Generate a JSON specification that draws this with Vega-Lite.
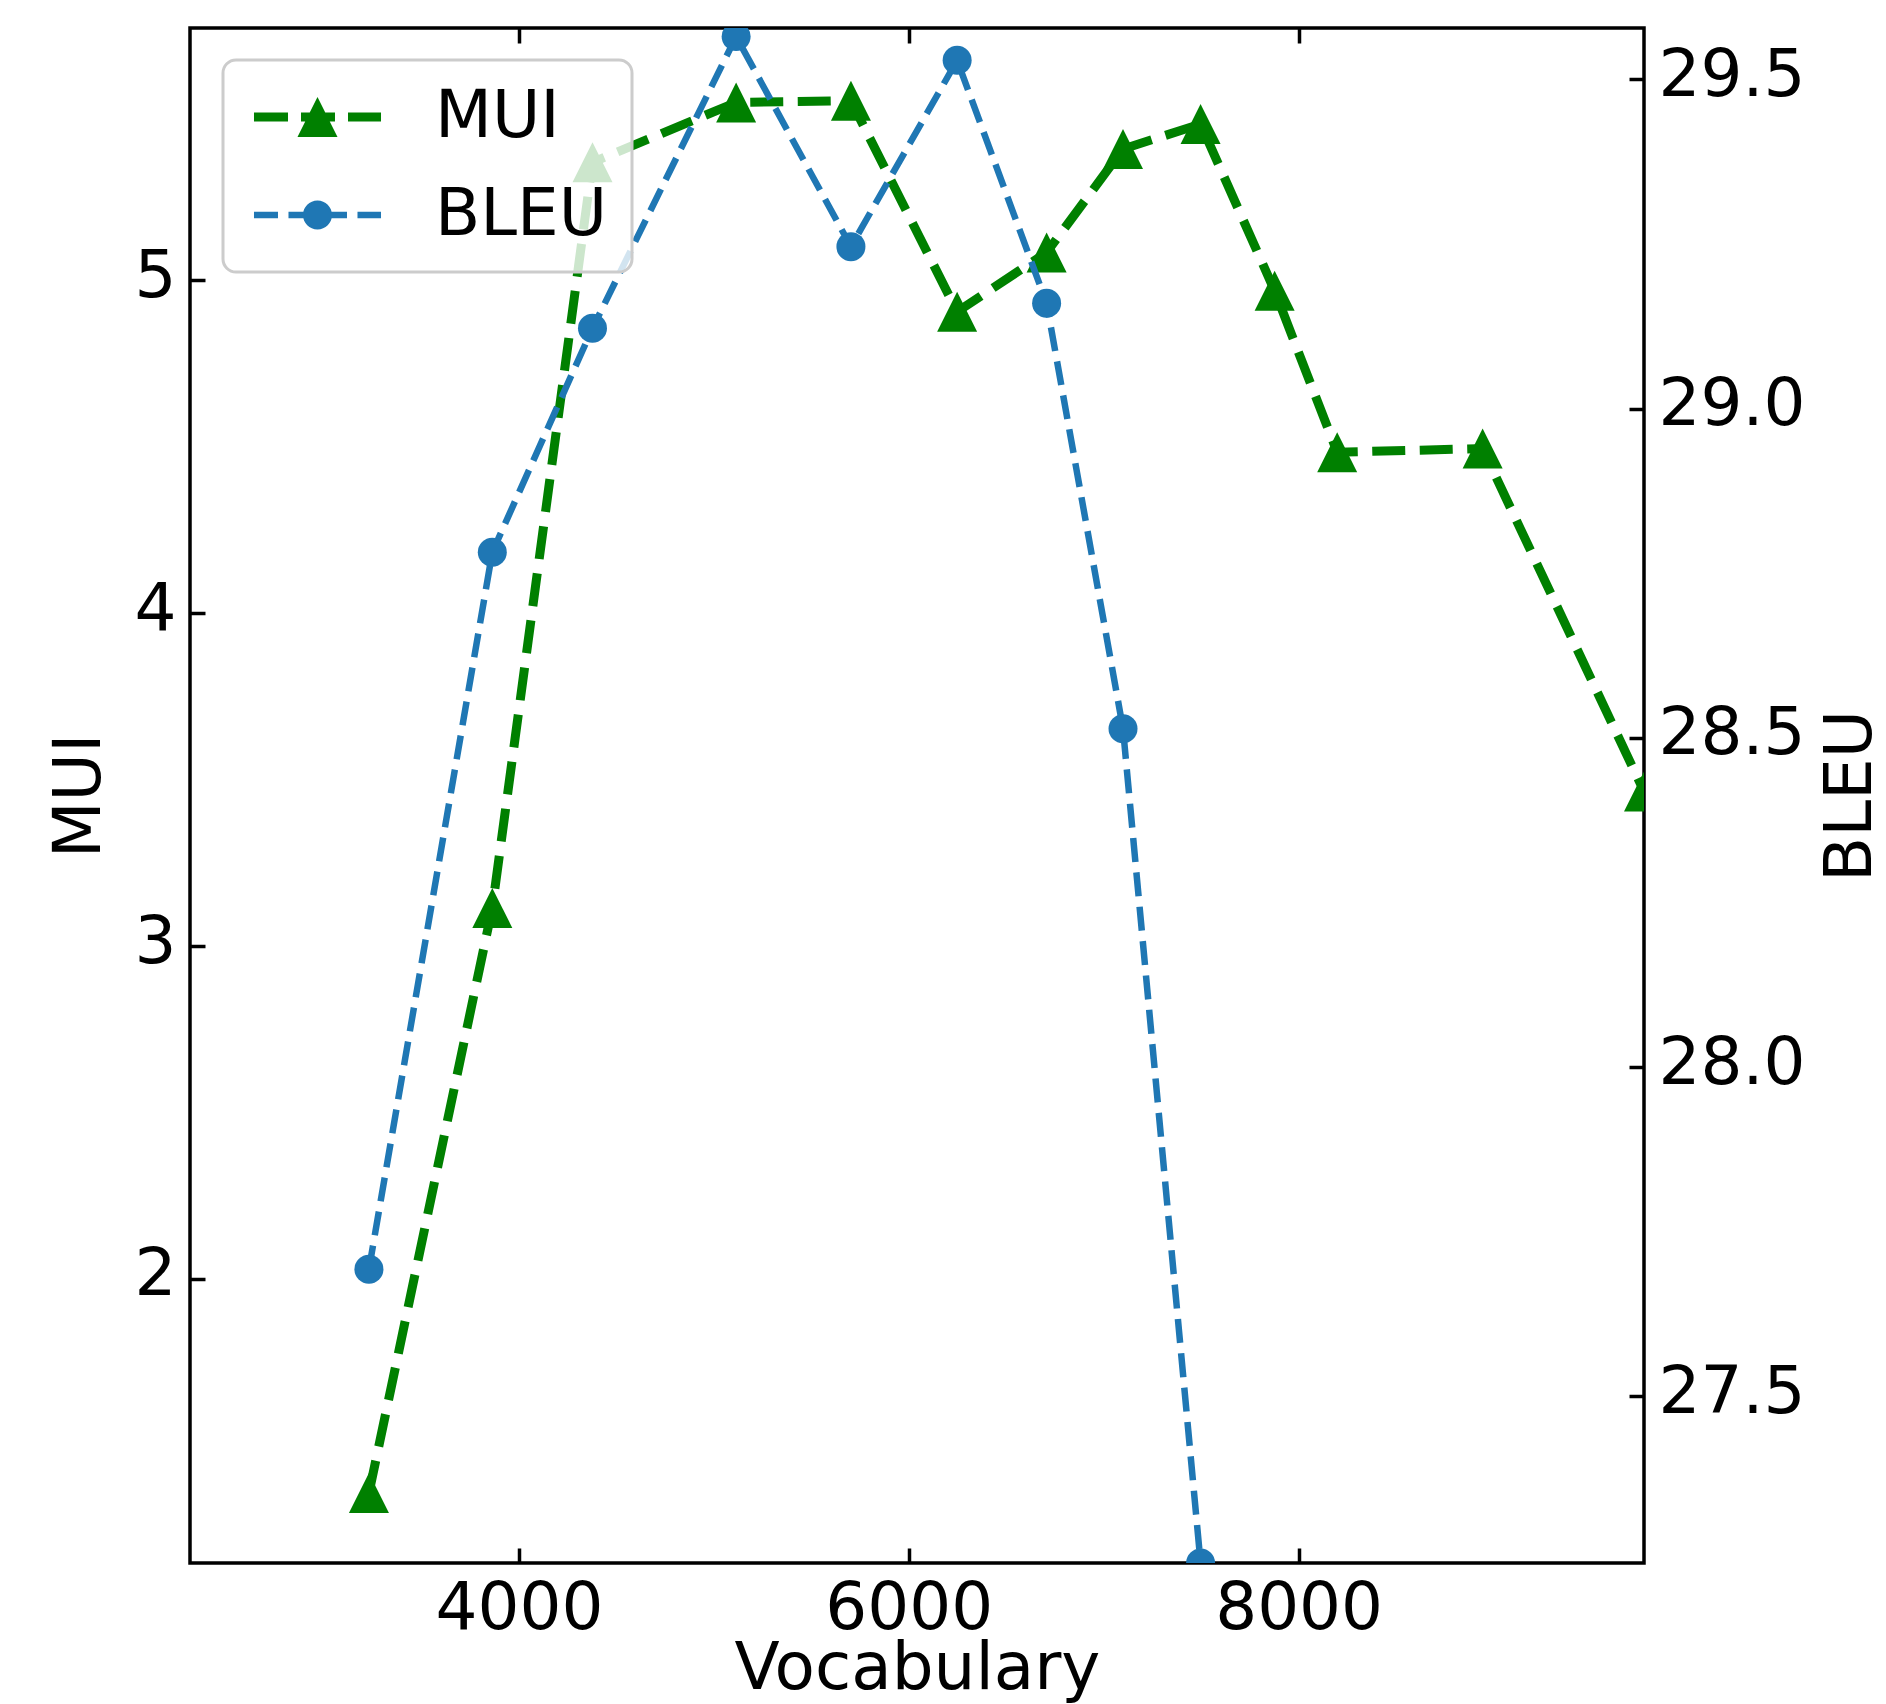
{
  "$schema": "https://vega.github.io/schema/vega-lite/v6.json",
  "width": 1454,
  "height": 1535,
  "autosize": {"type": "none"},
  "padding": {"left": 190, "top": 28, "right": 242, "bottom": 141},
  "background": "#ffffff",
  "config": {
    "font": "DejaVu Sans",
    "view": {"stroke": "#000000", "strokeWidth": 3.5},
    "legend": {"strokeWidth": 3},
    "axis": {
      "domain": false,
      "grid": false,
      "tickColor": "#000000",
      "tickWidth": 3.5,
      "tickSize": -15,
      "labelColor": "#000000",
      "labelFont": "DejaVu Sans",
      "labelFontSize": 66,
      "labelOverlap": false,
      "labelFlush": false,
      "titleColor": "#000000",
      "titleFont": "DejaVu Sans",
      "titleFontSize": 66,
      "titleFontWeight": "normal"
    }
  },
  "datasets": {
    "mui": [
      {"vocab": 3230, "MUI": 1.357},
      {"vocab": 3863, "MUI": 3.115},
      {"vocab": 4377, "MUI": 5.355},
      {"vocab": 5114, "MUI": 5.535},
      {"vocab": 5703, "MUI": 5.54},
      {"vocab": 6248, "MUI": 4.906},
      {"vocab": 6707, "MUI": 5.084},
      {"vocab": 7099, "MUI": 5.395},
      {"vocab": 7497, "MUI": 5.47},
      {"vocab": 7877, "MUI": 4.969},
      {"vocab": 8198, "MUI": 4.484},
      {"vocab": 8944, "MUI": 4.495},
      {"vocab": 9772, "MUI": 3.465}
    ],
    "bleu": [
      {"vocab": 3230, "BLEU": 27.693},
      {"vocab": 3863, "BLEU": 28.782},
      {"vocab": 4377, "BLEU": 29.122},
      {"vocab": 5114, "BLEU": 29.565},
      {"vocab": 5703, "BLEU": 29.246},
      {"vocab": 6248, "BLEU": 29.529},
      {"vocab": 6707, "BLEU": 29.16},
      {"vocab": 7099, "BLEU": 28.514},
      {"vocab": 7497, "BLEU": 27.247}
    ],
    "legendrows": [
      {"series": "MUI"},
      {"series": "BLEU"}
    ]
  },
  "layer": [
    {
      "data": {"name": "mui"},
      "mark": {"type": "line", "color": "#008000", "strokeWidth": 9, "strokeDash": [33, 14.5], "clip": true},
      "encoding": {
        "x": {
          "field": "vocab", "type": "quantitative",
          "scale": {"domain": [2312, 9772], "nice": false, "zero": false},
          "axis": {
            "orient": "bottom", "values": [4000, 6000, 8000], "format": "d",
            "labelPadding": 80, "labelBaseline": "alphabetic",
            "title": "Vocabulary", "titleX": 727, "titleY": 125,
            "titleBaseline": "alphabetic", "titleAlign": "center", "titleAngle": 0
          }
        },
        "y": {
          "field": "MUI", "type": "quantitative",
          "scale": {"domain": [1.1467, 5.7586], "nice": false, "zero": false},
          "axis": {
            "orient": "left", "values": [2, 3, 4, 5], "format": "d",
            "labelPadding": 29, "labelBaseline": "alphabetic", "labelOffset": 16,
            "title": "MUI", "titleX": -91, "titleY": 767.5, "titleAngle": -90,
            "titleBaseline": "alphabetic", "titleAlign": "center"
          }
        }
      }
    },
    {
      "data": {"name": "mui"},
      "mark": {"type": "point", "shape": "M0,-1L1,1L-1,1Z", "size": 1600, "filled": true, "opacity": 1, "color": "#008000", "clip": true},
      "encoding": {
        "x": {"field": "vocab", "type": "quantitative", "scale": {"domain": [2312, 9772], "nice": false, "zero": false}, "axis": null},
        "y": {"field": "MUI", "type": "quantitative", "scale": {"domain": [1.1467, 5.7586], "nice": false, "zero": false}, "axis": null}
      }
    },
    {
      "data": {"name": "bleu"},
      "mark": {"type": "line", "color": "#1f77b4", "strokeWidth": 6.5, "strokeDash": [24, 10.5], "clip": true},
      "encoding": {
        "x": {
          "field": "vocab", "type": "quantitative",
          "scale": {"domain": [2312, 9772], "nice": false, "zero": false},
          "axis": {"orient": "top", "values": [4000, 6000, 8000], "labels": false, "title": null}
        },
        "y": {
          "field": "BLEU", "type": "quantitative",
          "scale": {"domain": [27.247, 29.578], "nice": false, "zero": false},
          "axis": {
            "orient": "right", "values": [27.5, 28, 28.5, 29, 29.5], "format": ".1f",
            "labelPadding": 29, "labelBaseline": "alphabetic", "labelOffset": 16,
            "title": "BLEU", "titleX": 226, "titleY": 767.5, "titleAngle": -90,
            "titleBaseline": "alphabetic", "titleAlign": "center"
          }
        }
      }
    },
    {
      "data": {"name": "bleu"},
      "mark": {"type": "point", "shape": "circle", "size": 841, "filled": true, "opacity": 1, "color": "#1f77b4", "clip": true},
      "encoding": {
        "x": {"field": "vocab", "type": "quantitative", "scale": {"domain": [2312, 9772], "nice": false, "zero": false}, "axis": null},
        "y": {"field": "BLEU", "type": "quantitative", "scale": {"domain": [27.247, 29.578], "nice": false, "zero": false}, "axis": null}
      }
    },
    {
      "data": {"name": "legendrows"},
      "mark": {"type": "point", "filled": true, "opacity": 0},
      "encoding": {
        "color": {
          "field": "series", "type": "nominal",
          "scale": {"domain": ["MUI", "BLEU"], "range": ["#008000", "#1f77b4"]},
          "legend": {
            "orient": "none", "legendX": 33, "legendY": 32, "title": null,
            "symbolSize": 3600, "symbolStrokeWidth": 0, "symbolOpacity": 1,
            "labelFont": "DejaVu Sans", "labelFontSize": 66, "labelColor": "#000000", "labelLimit": 0,
            "padding": 24, "rowPadding": 32, "symbolOffset": 37.5, "labelOffset": 84.5,
            "fillColor": "rgba(255,255,255,0.8)", "strokeColor": "#cccccc", "cornerRadius": 13
          }
        },
        "shape": {
          "field": "series", "type": "nominal",
          "scale": {
            "domain": ["MUI", "BLEU"],
            "range": [
              "M-2.117,-0.15L-0.983,-0.15L-0.983,0.15L-2.117,0.15Z M-0.55,-0.15L0.583,-0.15L0.583,0.15L-0.55,0.15Z M1.017,-0.15L2.117,-0.15L2.117,0.15L1.017,0.15Z M0,-0.667L0.667,0.667L-0.667,0.667Z",
              "M-2.117,-0.108L-1.317,-0.108L-1.317,0.108L-2.117,0.108Z M-0.967,-0.108L-0.167,-0.108L-0.167,0.108L-0.967,0.108Z M0.183,-0.108L0.983,-0.108L0.983,0.108L0.183,0.108Z M1.333,-0.108L2.117,-0.108L2.117,0.108L1.333,0.108Z M-0.483,0A0.483,0.483 0 1 1 0.483,0A0.483,0.483 0 1 1 -0.483,0Z"
            ]
          },
          "legend": {
            "orient": "none", "legendX": 33, "legendY": 32, "title": null,
            "symbolSize": 3600, "symbolStrokeWidth": 0, "symbolOpacity": 1,
            "labelFont": "DejaVu Sans", "labelFontSize": 66, "labelColor": "#000000", "labelLimit": 0,
            "padding": 24, "rowPadding": 32, "symbolOffset": 37.5, "labelOffset": 84.5,
            "fillColor": "rgba(255,255,255,0.8)", "strokeColor": "#cccccc", "cornerRadius": 13
          }
        }
      }
    }
  ],
  "resolve": {"scale": {"y": "independent"}}
}
